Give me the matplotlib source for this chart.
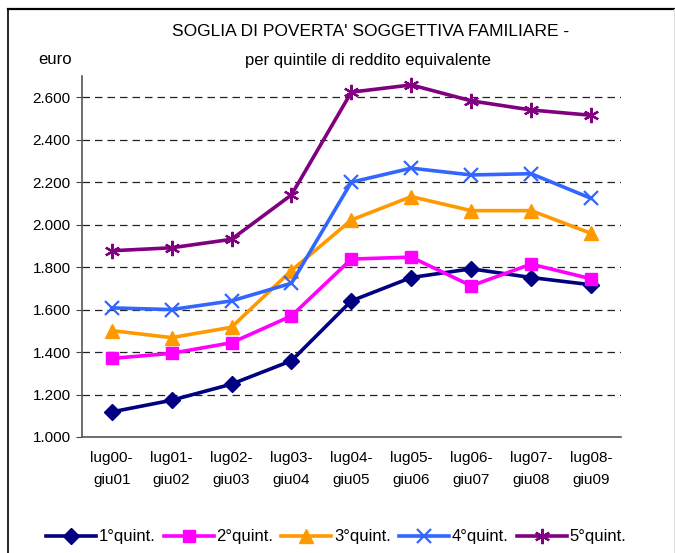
import numpy as np
import matplotlib
matplotlib.use("Agg")
import matplotlib.pyplot as plt
from matplotlib.ticker import FuncFormatter
from matplotlib.lines import Line2D

plt.rcParams['font.family'] = ['Liberation Sans', 'DejaVu Sans']

# data (euro)
periods = ["lug00-\ngiu01", "lug01-\ngiu02", "lug02-\ngiu03", "lug03-\ngiu04",
           "lug04-\ngiu05", "lug05-\ngiu06", "lug06-\ngiu07", "lug07-\ngiu08",
           "lug08-\ngiu09"]
q1 = [1118, 1173, 1249, 1359, 1641, 1751, 1792, 1751, 1717]
q2 = [1370, 1394, 1444, 1570, 1838, 1847, 1712, 1814, 1745]
q3 = [1501, 1468, 1517, 1784, 2022, 2132, 2066, 2066, 1959]
q4 = [1608, 1600, 1641, 1724, 2200, 2266, 2234, 2240, 2124]
q5 = [1877, 1891, 1931, 2140, 2624, 2658, 2583, 2540, 2515]
labels = ["1°quint.", "2°quint.", "3°quint.", "4°quint.", "5°quint."]
yticks = [1000, 1200, 1400, 1600, 1800, 2000, 2200, 2400, 2600]

W, H = 675, 553
fig = plt.figure(figsize=(W / 100, H / 100), dpi=100)

# outer frame of the chart
fig.add_artist(Line2D([8 / W, 8 / W], [0, 1 - 9 / H], color='black', lw=1.2))
fig.add_artist(Line2D([8 / W, 674 / W], [1 - 9 / H, 1 - 9 / H], color='black', lw=1.6))
fig.add_artist(Line2D([674 / W, 674 / W], [0, 1 - 9 / H], color='#dddddd', lw=0.8))

ax = fig.add_axes([81.7 / W, 1 - 437 / H, (621 - 81.7) / W, (437 - 76) / H])

x = np.arange(len(periods))
styles = [
    (q1, '#000080', 'D', 8),
    (q2, '#FF00FF', 's', 9),
    (q3, '#FF9900', '^', 10),
    (q4, '#3366FF', 'x', 10),
    (q5, '#800080', (6, 2, 0), 11),
]
handles = []
for (vals, col, mk, ms), lab in zip(styles, labels):
    h, = ax.plot(x, vals, color=col, lw=2.6, marker=mk, markersize=ms,
                 markeredgewidth=1.6 if mk == 'x' or isinstance(mk, tuple) else 1,
                 markerfacecolor=col, markeredgecolor=col, label=lab,
                 solid_joinstyle='round')
    handles.append(h)

ax.set_xlim(-0.5, len(periods) - 0.5)
ax.set_ylim(1000, 2700)
ax.set_yticks(yticks)
ax.yaxis.set_major_formatter(FuncFormatter(lambda v, p: f"{int(v):,}".replace(",", ".")))
ax.set_xticks(x)
ax.set_xticklabels(periods, fontsize=11, linespacing=1.75)
ax.tick_params(axis='x', length=0, pad=10)
ax.tick_params(axis='y', length=4, direction='out', labelsize=11, pad=4, color='#444444')

for yv in yticks[1:]:
    ax.axhline(yv, color='#222222', lw=0.9, ls=(0, (6, 4)), zorder=0)

for s in ('top', 'right'):
    ax.spines[s].set_visible(False)
for s in ('left', 'bottom'):
    ax.spines[s].set_color('#555555')
    ax.spines[s].set_linewidth(1.2)

fig.text(371 / W, 1 - 32 / H, "SOGLIA DI POVERTA' SOGGETTIVA FAMILIARE -",
         ha='center', va='center', fontsize=12.5)
fig.text(368 / W, 1 - 60 / H, "per quintile di reddito equivalente",
         ha='center', va='center', fontsize=12)
fig.text(55 / W, 1 - 60 / H, "euro", ha='center', va='center', fontsize=12)

fig.legend(handles=handles, loc='center', bbox_to_anchor=(336 / W, 1 - 537 / H),
           ncol=5, frameon=False, fontsize=12, handlelength=3.0,
           handletextpad=0.15, columnspacing=0.5, borderpad=0)

fig.savefig("out.png", dpi=100)
